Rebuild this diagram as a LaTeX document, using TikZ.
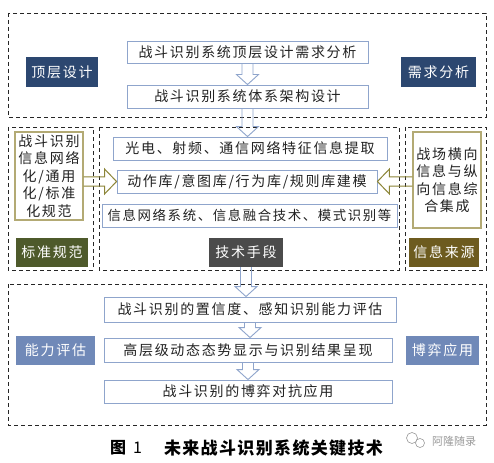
\documentclass[tikz,border=0pt]{standalone}
\usepackage{fontspec}
\setmainfont{Noto Sans CJK SC}
\newfontfamily\cjksp[LetterSpace=12]{Noto Sans CJK SC}
\newfontfamily\cjkcap[LetterSpace=8]{Noto Sans CJK SC}
\usetikzlibrary{calc}
\definecolor{navy}{HTML}{2C4770}
\definecolor{olivegreen}{HTML}{4E5A2B}
\definecolor{darkgraybox}{HTML}{4B4B4B}
\definecolor{brownolive}{HTML}{6D5B1F}
\definecolor{steel}{HTML}{7089B8}
\definecolor{boxblue}{HTML}{8FA5CC}
\definecolor{olivebd}{HTML}{B3AA74}
\definecolor{arrowol}{HTML}{8C8537}
\definecolor{txt}{HTML}{222222}
\definecolor{wmgray}{HTML}{9A9A9A}
\tikzset{
  dbox/.style={draw=black!85, line width=0.8pt, dash pattern=on 4pt off 3pt},
  bbox/.style={draw=boxblue, line width=0.9pt, fill=white, inner sep=0pt, text=txt,
    font=\cjksp\fontsize{14}{16}\selectfont},
  obox/.style={draw=olivebd, line width=1.1pt, fill=white, inner sep=0pt, text=txt, align=center,
    font=\cjksp\fontsize{14}{17.5}\selectfont},
  lbl/.style={inner sep=0pt, text=white, font=\cjksp\fontsize{14}{16}\selectfont},
  varrow/.style={draw=boxblue, line width=0.9pt,
    to path={let \p1=(\tikztostart), \p2=(\tikztotarget) in
      (\x1-5.5pt,\y1) -- (\x1-5.5pt,\y2+10pt) -- (\x1-11pt,\y2+10pt) -- (\x1,\y2)
      -- (\x1+11pt,\y2+10pt) -- (\x1+5.5pt,\y2+10pt) -- (\x1+5.5pt,\y1)}},
  harrow/.style={draw=arrowol, line width=1pt,
    to path={let \p1=(\tikztostart), \p2=(\tikztotarget), \n1={sign(\x2-\x1)} in
      (\x1,\y1+4.5pt) -- (\x2-\n1*12pt,\y1+4.5pt) -- (\x2-\n1*12pt,\y1+12.5pt) -- (\x2,\y1)
      -- (\x2-\n1*12pt,\y1-12.5pt) -- (\x2-\n1*12pt,\y1-4.5pt) -- (\x1,\y1-4.5pt)}}
}
\begin{document}
\begin{tikzpicture}[x=1pt,y=-1pt]
\useasboundingbox[fill=white] (0,0) rectangle (494,462);
% dashed frames
\draw[dbox] (8,13) rectangle (486,117);
\draw[dbox] (8,127) rectangle (93,270);
\draw[dbox] (99,127) rectangle (399,270);
\draw[dbox] (405,127) rectangle (486,270);
\draw[dbox] (8,284) rectangle (486,425);
% top section
\node[bbox, minimum width=241pt, minimum height=22pt] (b1) at (247.5,52) {战斗识别系统顶层设计需求分析};
\node[bbox, minimum width=241pt, minimum height=23pt] (b2) at (247.5,96.5) {战斗识别系统体系架构设计};
\node[lbl, fill=navy, minimum width=72pt, minimum height=30pt] (l1) at (62,72) {顶层设计};
\node[lbl, fill=navy, minimum width=75pt, minimum height=30pt] (l2) at (438.5,72) {需求分析};
% middle section
\node[obox, minimum width=68pt, minimum height=88pt] (lw) at (49,176) {战斗识别\\信息网络\\化/通用\\化/标准\\化规范};
\node[lbl, fill=olivegreen, minimum width=72pt, minimum height=29pt] (l3) at (52,252.5) {标准规范};
\node[bbox, minimum width=274pt, minimum height=23pt] (g1) at (250,148.5) {光电、射频、通信网络特征信息提取};
\node[bbox, minimum width=260pt, minimum height=23pt] (g2) at (247,181.5) {动作库/意图库/行为库/规则库建模};
\node[bbox, minimum width=295pt, minimum height=23pt, font=\cjksp\fontsize{13.4}{16}\selectfont] (g3) at (249.5,215.5) {信息网络系统、信息融合技术、模式识别等};
\node[lbl, fill=darkgraybox, minimum width=74pt, minimum height=29pt] (l4) at (246,252.5) {技术手段};
\node[obox, minimum width=68pt, minimum height=96pt] (rw) at (447,180) {战场横向\\信息与纵\\向信息综\\合集成};
\node[lbl, fill=brownolive, minimum width=70pt, minimum height=29pt] (l5) at (444,252.5) {信息来源};
% bottom section
\node[bbox, minimum width=292pt, minimum height=25pt] (h1) at (250,309.5) {战斗识别的置信度、感知识别能力评估};
\node[bbox, minimum width=288pt, minimum height=24pt] (h2) at (248,350) {高层级动态态势显示与识别结果呈现};
\node[bbox, minimum width=288pt, minimum height=23pt] (h3) at (248,391.5) {战斗识别的博弈对抗应用};
\node[lbl, fill=steel, minimum width=79pt, minimum height=29pt] (l6) at (55.5,350.5) {能力评估};
\node[lbl, fill=steel, minimum width=73pt, minimum height=29pt] (l7) at (442.5,350.5) {博弈应用};
% block arrows
\draw[varrow] (b1.south) to (b1.south |- b2.north);
\draw[varrow] (b2.south) to (b2.south |- g1.north);
\draw[varrow] (l4.south) to (l4.south |- h1.north);
\draw[varrow] (h1.south) to (h1.south |- h2.north);
\draw[varrow] (h2.south) to (h2.south |- h3.north);
\draw[harrow] (lw.east |- g2.west) to (g2.west);
\draw[harrow] (rw.west |- g2.east) to (g2.east);
% caption
\node[inner sep=0pt, font=\fontsize{16}{18}\selectfont\bfseries] (cap1) at (126,448) {图\hspace{7pt}\normalfont 1};
\node[inner sep=0pt, font=\cjkcap\fontsize{17}{19}\selectfont\bfseries] (cap2) at (273.5,448) {未来战斗识别系统关键技术};
% watermark
\draw[wmgray, line width=0.6pt] (412,438) circle (5.5pt);
\draw[wmgray, line width=0.6pt, fill=white] (420,443) circle (4.5pt);
\node[inner sep=0pt, text=wmgray, font=\fontsize{11}{13}\selectfont] (wm) at (454,441) {阿隆随录};
\end{tikzpicture}
\end{document}
